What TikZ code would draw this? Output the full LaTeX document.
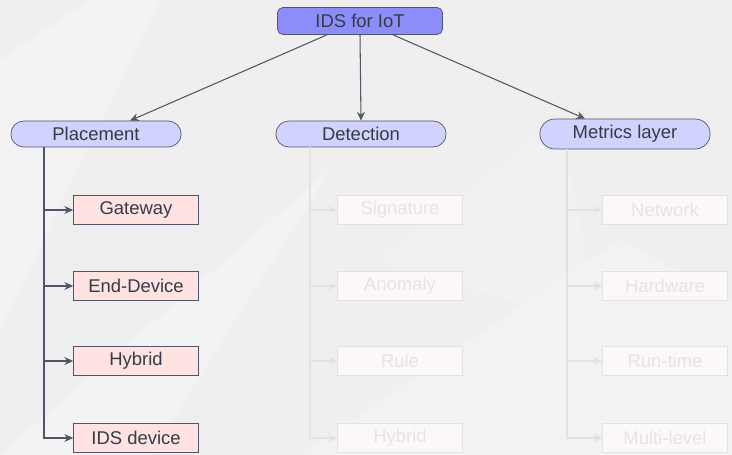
\documentclass[tikz,border=0pt]{standalone}
\usepackage{fontspec}
\setmainfont{Liberation Sans}
\usetikzlibrary{calc}
\usetikzlibrary{arrows}
\usetikzlibrary{arrows.meta}
\usetikzlibrary{shapes.misc}
\definecolor{bgc}{HTML}{EFEFEF}
\definecolor{txt}{HTML}{353B45}
\definecolor{edge}{HTML}{4F5766}
\definecolor{rootc}{HTML}{8C8CFA}
\definecolor{catc}{HTML}{D2D2FF}
\definecolor{leafc}{HTML}{FFE2E2}
\definecolor{fadeline}{HTML}{E2E2E2}
\definecolor{fadefill}{HTML}{FCF8F8}
\definecolor{fadetxt}{HTML}{E4E4E4}
\tikzset{
  rootbox/.style={draw=edge,fill=rootc,rounded corners=3pt,minimum width=3.3cm,minimum height=0.54cm,text=txt},
  catbox/.style={draw=edge,fill=catc,rounded rectangle,minimum width=3.64cm,minimum height=0.52cm,text=txt},
  leafbox/.style={draw=edge,fill=leafc,minimum width=2.5cm,minimum height=0.58cm,text=txt},
  fadebox/.style={draw=fadeline,fill=fadefill,minimum width=2.5cm,minimum height=0.58cm,text=fadetxt},
  link/.style={edge,semithick,-{Stealth[length=5pt,width=4.5pt]}},
  fadelink/.style={fadeline,semithick,-{Stealth[length=5pt,width=4.5pt]}}
}

\begin{document}
\begin{tikzpicture}[x=0.02cm,y=-0.02cm,font=\fontsize{10.5}{12}\selectfont]
\useasboundingbox (0,0) rectangle (732,455);
\fill[bgc] (0,0) rectangle (732,455);
\fill[white,opacity=0.3] (0,455) -- (330,170) -- (150,455) -- cycle;
\fill[white,opacity=0.25] (0,60) -- (90,0) -- (160,0) -- (0,330) -- cycle;
\fill[white,opacity=0.2] (300,455) -- (620,240) -- (732,300) -- (732,455) -- cycle;
\fill[white,opacity=0.15] (380,260) -- (560,120) -- (600,330) -- cycle;

\node[rootbox] (root) at (360,21) {IDS for IoT};
\node[catbox] (place) at (96,134) {Placement};
\node[catbox] (detect) at (361,134) {Detection};
\node[catbox,minimum height=0.6cm] (metric) at (625,134) {Metrics layer};

\draw[link] ($(root.south)+(-33,0)$) -- ($(place.north)+(34,0)$);
\draw[link] (root.south) -- (detect.north);
\draw[link] ($(root.south)+(33,0)$) -- ($(metric.north)+(-40,0)$);

\node[leafbox] (gate) at (136,210) {Gateway};
\node[leafbox] (enddev) at (136,286) {End-Device};
\node[leafbox] (hyb) at (136,361) {Hybrid};
\node[leafbox] (idsdev) at (136,438) {IDS device};
\coordinate (P) at ($(place.south)+(-52,0)$);
\draw[link] (P) |- (gate.west);
\draw[link] (P) |- (enddev.west);
\draw[link] (P) |- (hyb.west);
\draw[link] (P) |- (idsdev.west);

\node[fadebox] (sig) at (400,210) {Signature};
\node[fadebox] (anom) at (400,286) {Anomaly};
\node[fadebox] (rule) at (400,361) {Rule};
\node[fadebox] (dhyb) at (400,438) {Hybrid};
\coordinate (D) at ($(detect.south)+(-51,0)$);
\draw[fadelink] (D) |- (sig.west);
\draw[fadelink] (D) |- (anom.west);
\draw[fadelink] (D) |- (rule.west);
\draw[fadelink] (D) |- (dhyb.west);

\node[fadebox] (net) at (665,210) {Network};
\node[fadebox] (hw) at (665,286) {Hardware};
\node[fadebox] (rt) at (665,361) {Run-time};
\node[fadebox] (ml) at (665,438) {Multi-level};
\coordinate (M) at ($(metric.south)+(-58,0)$);
\draw[fadelink] (M) |- (net.west);
\draw[fadelink] (M) |- (hw.west);
\draw[fadelink] (M) |- (rt.west);
\draw[fadelink] (M) |- (ml.west);
\end{tikzpicture}
\end{document}
